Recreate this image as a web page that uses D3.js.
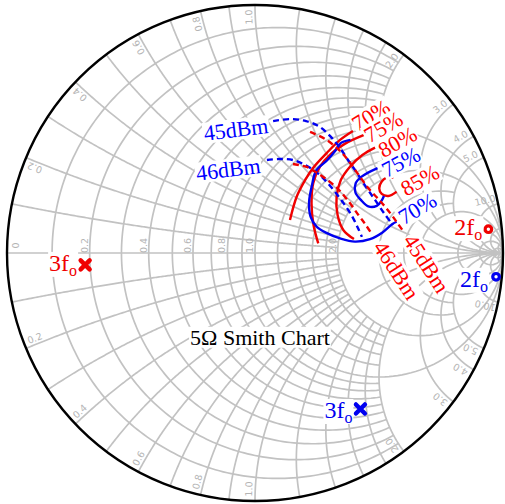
<!DOCTYPE html>
<html><head><meta charset="utf-8">
<script src="https://cdn.jsdelivr.net/npm/d3@7"></script>
<style>body{margin:0;background:#fff}svg{display:block}</style>
</head><body>
<svg id="c" width="505" height="504"></svg>
<script>
// ---------- grid values (normalised impedance) ----------
const rValues = [0.1,0.2,0.3,0.4,0.5,0.6,0.7,0.8,0.9,1.0,1.2,1.4,1.6,1.8,2.0,3.0,4.0,5.0,10,20,50];
const rMaxX   = [2,2,2,2,2,2,2,2,2,Infinity,2,2,2,2,Infinity,5,5,Infinity,Infinity,Infinity,Infinity];
const xValues = [0.1,0.2,0.3,0.4,0.5,0.6,0.7,0.8,0.9,1.0,1.2,1.4,1.6,1.8,2.0,3.0,4.0,5.0,10,20,50];
const xMaxR   = [2,2,2,2,2,2,2,2,2,Infinity,2,2,2,2,Infinity,5,5,Infinity,Infinity,Infinity,Infinity];
const rimLabels  = [0.2,0.4,0.6,0.8,1.0,2.0,3.0,4.0,5.0,10.0];
const axisLabels = [0,0.2,0.4,0.6,0.8,1.0,2.0];

// ---------- contours (reflection coefficient, re / im) ----------
const red70  = [[0.141,0.133],[0.168,0.227],[0.202,0.294],[0.234,0.343],[0.289,0.403],[0.343,0.456],[0.395,0.492]];
const red75  = [[0.255,0.039],[0.236,0.113],[0.228,0.200],[0.235,0.282],[0.262,0.348],[0.306,0.400],[0.362,0.440],[0.440,0.476]];
const red80  = [[0.399,0.056],[0.356,0.093],[0.333,0.153],[0.329,0.226],[0.346,0.294],[0.383,0.348],[0.433,0.395],[0.484,0.425]];
const red85  = [[0.558,0.304],[0.531,0.304],[0.511,0.288],[0.501,0.261],[0.511,0.238],[0.538,0.230],[0.571,0.247]];
const blue75 = [[0.494,0.342],[0.430,0.308],[0.406,0.281],[0.405,0.244],[0.427,0.214],[0.457,0.188],[0.491,0.190],[0.508,0.207],[0.520,0.230]];
const blue70 = [[0.385,0.456],[0.347,0.444],[0.323,0.411],[0.292,0.375],[0.246,0.331],[0.230,0.274],[0.218,0.204],[0.224,0.147],[0.248,0.107],[0.288,0.081],[0.343,0.059],[0.403,0.046],[0.464,0.056],[0.514,0.083],[0.554,0.117],[0.571,0.126]];
const red45dBm  = [[0.222,0.488],[0.282,0.460],[0.335,0.419],[0.375,0.375],[0.415,0.319],[0.460,0.258],[0.508,0.206],[0.548,0.157],[0.577,0.117],[0.597,0.089]];
const blue45dBm = [[0.073,0.532],[0.141,0.540],[0.206,0.532],[0.262,0.508],[0.306,0.468],[0.343,0.423],[0.375,0.375],[0.411,0.323],[0.448,0.266],[0.484,0.214],[0.520,0.161],[0.556,0.113]];
const red46dBm  = [[0.153,0.359],[0.208,0.347],[0.250,0.323],[0.298,0.290],[0.339,0.254],[0.379,0.206],[0.417,0.153],[0.444,0.117],[0.468,0.081]];
const blue46dBm = [[0.048,0.375],[0.101,0.379],[0.153,0.375],[0.202,0.355],[0.246,0.327],[0.286,0.290],[0.323,0.246],[0.359,0.198],[0.391,0.149],[0.415,0.101],[0.431,0.065]];

// ---------- harmonic terminations ----------
const red3fo  = [-0.685,-0.048];
const blue3fo = [0.425,-0.629];
const red2fo  = [0.941,0.096];
const blue2fo = [0.972,-0.096];

// ---------- annotations ----------
const labelTexts  = ["70%","75%","80%","75%","85%","70%","45dBm","46dBm","45dBm","46dBm","5Ω Smith Chart"];
const labelColors = ["red","red","red","blue","red","blue","red","red","blue","blue","black"];
const labelPos    = [[0.467,0.556],[0.517,0.509],[0.574,0.449],[0.588,0.368],[0.665,0.294],[0.654,0.180],[0.692,-0.042],[0.571,-0.069],[-0.077,0.499],[-0.108,0.338],[0.020,-0.339]];
const labelRot    = [-31,-30,-29,-28,-30,-31,57,57,-7,-7,0];

// ---------- drawing ----------
const RED = "#f00000", BLUE = "#0000f0", GRID = "#c2c2c2";
const cx = 255, cy = 253, R = 248;
const sx = d3.scaleLinear().domain([-1,1]).range([cx-R, cx+R]);
const sy = d3.scaleLinear().domain([-1,1]).range([cy+R, cy-R]);
const svg = d3.select("#c");
const line = d3.line().x(d=>sx(d[0])).y(d=>sy(d[1]));
const curve = d3.line().x(d=>sx(d[0])).y(d=>sy(d[1])).curve(d3.curveCatmullRom.alpha(0.5));

function gamma(r, x){
  const den = (r+1)*(r+1) + x*x;
  return [((r-1)*(r+1) + x*x)/den, 2*x/den];
}
const gGrid = svg.append("g").attr("fill","none").attr("stroke",GRID).attr("stroke-width",1.7);
const N = 240;
rValues.forEach((r,i)=>{
  const tm = isFinite(rMaxX[i]) ? Math.atan(rMaxX[i]) : Math.PI/2 - 1e-4;
  const pts = d3.range(N+1).map(k=>{ const t = -tm + 2*tm*k/N; return gamma(r, Math.tan(t)); });
  gGrid.append("path").attr("d", line(pts));
});
xValues.forEach((x,i)=>{
  const tm = isFinite(xMaxR[i]) ? Math.atan(xMaxR[i]) : Math.PI/2 - 1e-4;
  [1,-1].forEach(s=>{
    const pts = d3.range(N+1).map(k=>{ const t = tm*k/N; return gamma(Math.tan(t), s*x); });
    gGrid.append("path").attr("d", line(pts));
  });
});
gGrid.append("line").attr("x1",sx(-1)).attr("x2",sx(1)).attr("y1",sy(0)).attr("y2",sy(0));

// grid labels
const gLab = svg.append("g").attr("fill","#b4b4b4").attr("font-family","DejaVu Sans, sans-serif")
  .attr("font-size",9.5).attr("text-anchor","middle").attr("dominant-baseline","central");
rimLabels.forEach(v=>{
  [1,-1].forEach(s=>{
    const th = s*(Math.PI - 2*Math.atan(v)) + s*1.5*Math.PI/180;
    const rr = 0.952;
    const px = sx(rr*Math.cos(th)), py = sy(rr*Math.sin(th));
    const deg = th*180/Math.PI;
    const rot = s>0 ? -deg : -(deg+180);
    gLab.append("text").attr("transform",`translate(${px},${py}) rotate(${rot})`).text(v.toFixed(1));
  });
});
axisLabels.forEach(v=>{
  const g = (v-1)/(v+1);
  const px = sx(g) + (v===0 ? 8 : -5.5);
  gLab.append("text").attr("transform",`translate(${px},${sy(0)-7.5}) rotate(-90)`).text(v===0?"0":v.toFixed(1));
});

// outer circle
svg.append("circle").attr("cx",sx(0)).attr("cy",sy(0)).attr("r",sx(1)-sx(0))
  .attr("fill","none").attr("stroke","#000").attr("stroke-width",2.4);

// contours
const gC = svg.append("g").attr("fill","none").attr("stroke-width",2.4).attr("stroke-linecap","butt");
[[red70,RED],[red75,RED],[red80,RED],[red85,RED],[blue75,BLUE],[blue70,BLUE]].forEach(([d,c])=>{
  gC.append("path").attr("d",curve(d)).attr("stroke",c);
});
[[blue45dBm,BLUE],[red45dBm,RED],[blue46dBm,BLUE],[red46dBm,RED]].forEach(([d,c])=>{
  gC.append("path").attr("d",curve(d)).attr("stroke",c).attr("stroke-dasharray","6,4");
});

// markers
function cross(p,c){
  const g = svg.append("g").attr("transform",`translate(${sx(p[0])},${sy(p[1])})`);
  g.append("path").attr("d","M-4.5,-4.5L4.5,4.5M-4.5,4.5L4.5,-4.5").attr("stroke",c).attr("stroke-width",4.5).attr("stroke-linecap","round");
}
function ring(p,c){
  svg.append("circle").attr("cx",sx(p[0])).attr("cy",sy(p[1])).attr("r",3.3)
    .attr("fill","#fff").attr("stroke",c).attr("stroke-width",3.2);
}
cross(red3fo,RED); cross(blue3fo,BLUE); ring(red2fo,RED); ring(blue2fo,BLUE);

// text with white background
function boxedText(parent, build){
  const g = parent.append("g");
  const t = build(g);
  const b = t.node().getBBox();
  g.insert("rect","text").attr("x",b.x-1).attr("y",b.y+2).attr("width",b.width+2).attr("height",b.height-4).attr("fill","#fff");
  return g;
}
const gT = svg.append("g").attr("font-family","Liberation Serif, Times New Roman, serif").attr("font-size",22);
labelTexts.forEach((s,i)=>{
  const g = gT.append("g").attr("transform",`translate(${sx(labelPos[i][0])},${sy(labelPos[i][1])}) rotate(${labelRot[i]})`);
  boxedText(g, gg=>gg.append("text").attr("text-anchor","middle").attr("dy","0.35em").attr("fill",labelColors[i]).text(s));
});
function harmLabel(p, txt, c, dx, dy){
  const g = gT.append("g").attr("transform",`translate(${sx(p[0])+dx},${sy(p[1])+dy})`);
  boxedText(g, gg=>{
    const t = gg.append("text").attr("text-anchor","end").attr("fill",c).attr("font-size",24);
    t.append("tspan").text(txt);
    t.append("tspan").attr("font-size",16).attr("dy",5).text("o");
    return t;
  });
}
harmLabel(red3fo,"3f",RED,-8,6);
harmLabel(blue3fo,"3f",BLUE,-8,9);
harmLabel(red2fo,"2f",RED,-6,6);
harmLabel(blue2fo,"2f",BLUE,-8,10);
</script>
</body></html>
